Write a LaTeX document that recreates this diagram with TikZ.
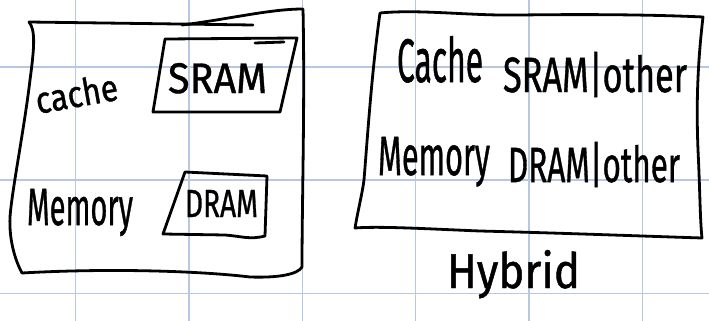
\documentclass[tikz,border=0pt]{standalone}
\usepackage{fontspec}
\newfontfamily\handfont{Fira Sans}[BoldFont={Fira Sans}, BoldFeatures={FakeBold=1.0}]
\usepackage{graphicx}
\definecolor{gridblue}{RGB}{184,200,226}
\tikzset{
  gridline/.style={draw=gridblue, line width=1.3pt},
  ink/.style={draw=black, line width=2.8pt, line cap=round, line join=round},
  hand/.style={inner sep=0pt, outer sep=0pt, text=black, anchor=base west, font=\handfont\bfseries},
}
\newcommand{\hw}[3]{\resizebox{#1pt}{#2pt}{#3}}
\begin{document}
\begin{tikzpicture}[x=1pt, y=-1pt]
  \useasboundingbox (0,0) rectangle (709,321);
  \fill[white] (0,0) rectangle (709,321);
  % grid
  \foreach \gx in {75.5,189,302.5,415.5,529,642.5}
    \draw[gridline] (\gx,0) -- (\gx,321);
  \foreach \gy in {67,180,293.5}
    \draw[gridline] (0,\gy) -- (709,\gy);

  % left outer box
  \draw[ink] (29,22) -- (253,25);
  \draw[ink] (182,25) .. controls (230,19) and (270,9) .. (303,9)
             .. controls (305,100) and (302,200) .. (302,267);
  \draw[ink] (22,273) .. controls (110,268) and (200,271) .. (250,277)
             .. controls (280,278) and (298,274) .. (302,267);
  \draw[ink] (29,22) .. controls (36,30) and (34,50) .. (30,80)
             .. controls (24,130) and (12,190) .. (10,217)
             .. controls (9,240) and (15,260) .. (22,273);

  % SRAM box
  \draw[ink] (165,39) -- (297,38) -- (280,112) -- (153,112) -- cycle;
  \draw[ink] (255,43) -- (284,42);
  % DRAM box
  \draw[ink] (185,172) -- (267,176) -- (265,236)
             .. controls (250,240) and (240,236) .. (225,235) -- (163,234) -- cycle;

  % right outer box
  \draw[ink] (380,13) .. controls (420,9) and (470,16) .. (520,15)
             .. controls (600,14) and (660,15) .. (703,17)
             .. controls (698,60) and (696,100) .. (698,150)
             .. controls (700,190) and (700,220) .. (702,238)
             .. controls (640,236) and (560,233) .. (480,231)
             .. controls (430,229) and (380,226) .. (355,228)
             .. controls (358,210) and (362,195) .. (364,180)
             .. controls (368,130) and (372,70) .. (380,13);

  % left labels
  \node[hand, rotate=10] (cacheL) at (38,114) {\hw{83}{28}{cache}};
  \node[hand] (memL) at (27,225) {\hw{106}{36}{Memory}};
  \node[hand] (sram) at (168,93) {\hw{99}{30}{SRAM}};
  \node[hand] (dram) at (185,217) {\hw{73}{27}{DRAM}};

  % right labels
  \node[hand] (cacheR) at (397,82) {\hw{86}{46}{Cache}};
  \node[hand] (sramR) at (503,92) {\hw{184}{40}{SRAM|other}};
  \node[hand] (memR) at (378,175) {\hw{112}{38}{Memory}};
  \node[hand] (dramR) at (508,182) {\hw{172}{40}{DRAM|other}};
  \node[hand] (hybrid) at (447,288) {\hw{133}{38}{Hybrid}};
\end{tikzpicture}
\end{document}
